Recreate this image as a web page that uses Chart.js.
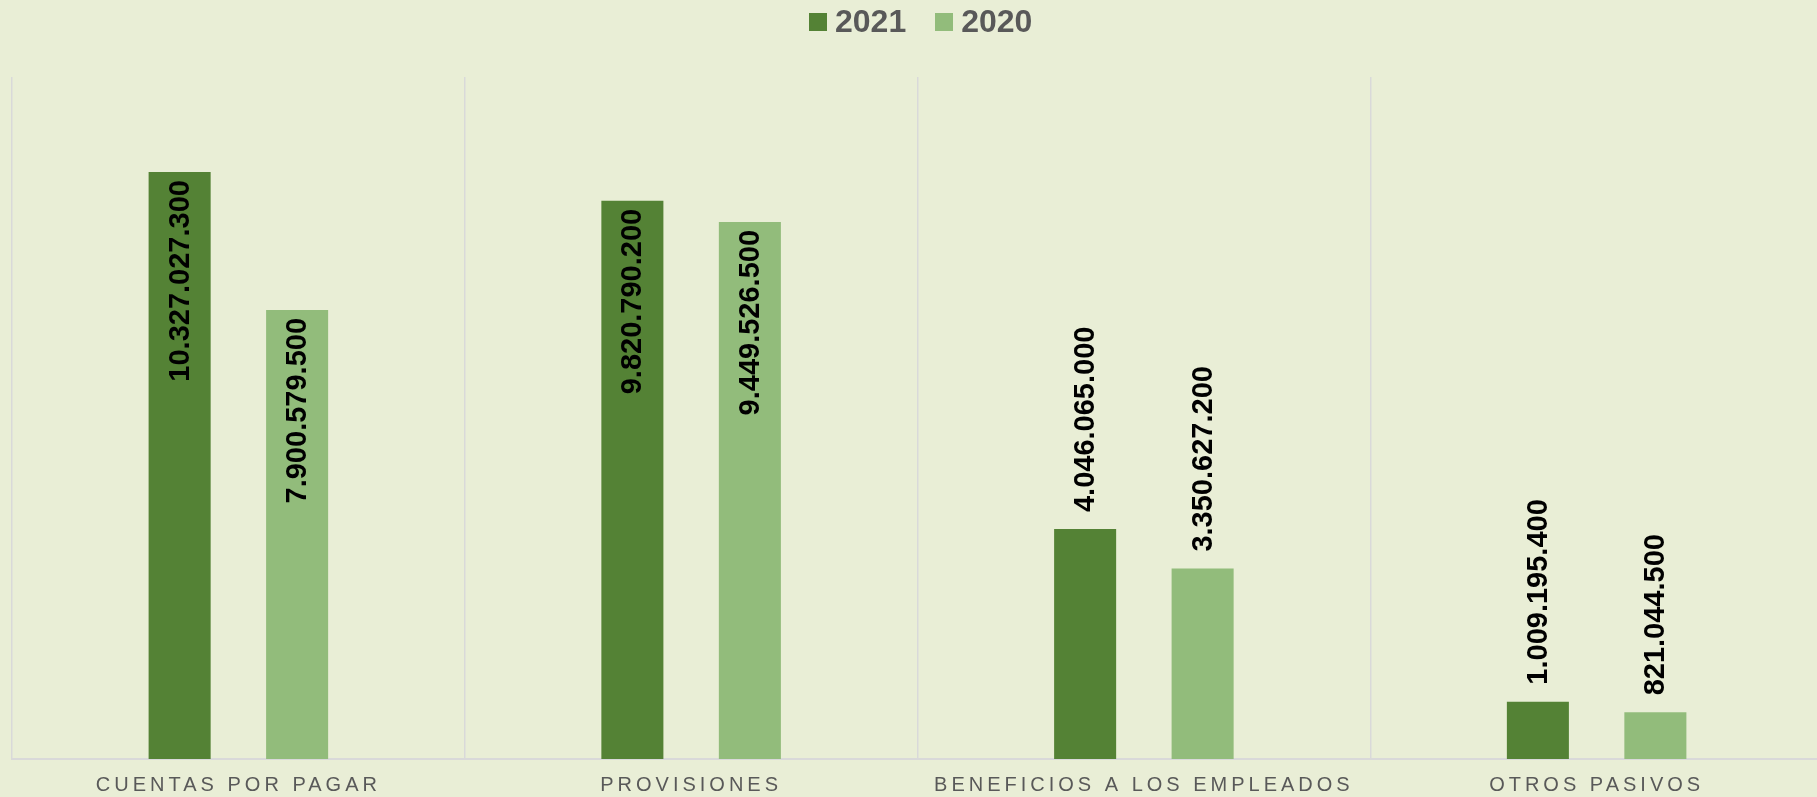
<!DOCTYPE html>
<html>
<head>
<meta charset="utf-8">
<script src="https://cdn.jsdelivr.net/npm/chart.js@4/dist/chart.umd.min.js"></script>
<style>
  html, body { margin:0; padding:0; background:#E9EED6; overflow:hidden; }
  #wrap { position:relative; width:1823px; height:797px; overflow:hidden; }
  #legend { position:absolute; left:809px; top:3px; display:flex; align-items:center;
            font:bold 32px "Liberation Sans", Arial, sans-serif; color:#595959; }
  #legend .item { display:flex; align-items:center; margin-right:29px; }
  #legend .box { width:18px; height:18px; margin-right:8px; }
</style>
</head>
<body>
<div id="wrap">
  <canvas id="chart" width="1823" height="812"></canvas>
  <div id="legend"></div>
</div>
<script>
const categories  = ["CUENTAS POR PAGAR", "PROVISIONES", "BENEFICIOS A LOS EMPLEADOS", "OTROS PASIVOS"];
const seriesNames = ["2021", "2020"];
const values2021  = [10327027300, 9820790200, 4046065000, 1009195400];
const values2020  = [7900579500, 9449526500, 3350627200, 821044500];
const colors      = ["#548235", "#92BC7B"];

const fmt = v => String(v).replace(/\B(?=(\d{3})+(?!\d))/g, ".");

// legend as html so the spacing matches
document.getElementById("legend").innerHTML = seriesNames.map((name, i) => `
  <div class="item"><div class="box" style="background:${colors[i]}"></div>${name}</div>`).join("");

// spaced-out category labels
const spacing = {
  id: "spacing",
  beforeDraw(chart) { chart.ctx.letterSpacing = "4px"; },
  beforeDatasetsDraw(chart) { chart.ctx.letterSpacing = "0px"; }
};

// rotated value labels, above the bar unless that runs too close to the top
const valueLabels = {
  id: "valueLabels",
  afterDatasetsDraw(chart) {
    const ctx = chart.ctx;
    const area = chart.chartArea;
    ctx.save();
    ctx.font = 'bold 29px "Liberation Sans", Arial, sans-serif';
    ctx.fillStyle = "#000";
    ctx.textAlign = "left";
    ctx.textBaseline = "middle";
    chart.data.datasets.forEach((ds, i) => {
      chart.getDatasetMeta(i).data.forEach((bar, j) => {
        const text = fmt(ds.data[j]);
        const w = ctx.measureText(text).width;
        let start = bar.y - 17;
        if (start - w < area.top + 100) start = bar.y + 8 + w;
        ctx.save();
        ctx.translate(bar.x, start);
        ctx.rotate(-Math.PI / 2);
        ctx.fillText(text, 0, 1);
        ctx.restore();
      });
    });
    ctx.restore();
  }
};

new Chart(document.getElementById("chart"), {
  type: "bar",
  data: {
    labels: categories,
    datasets: [
      { label: seriesNames[0], data: values2021, backgroundColor: colors[0] },
      { label: seriesNames[1], data: values2020, backgroundColor: colors[1] }
    ]
  },
  options: {
    responsive: false,
    animation: false,
    devicePixelRatio: 1,
    categoryPercentage: 0.519,
    barPercentage: 0.528,
    layout: { padding: { left: 12, right: 0, top: 77, bottom: 1 } },
    plugins: { legend: { display: false }, tooltip: { enabled: false } },
    scales: {
      x: {
        grid: { offset: true, color: "#D9D9D9", lineWidth: 1.5, drawTicks: false },
        border: { color: "#D9D9D9", width: 2 },
        ticks: {
          color: "#595959", padding: 14, maxRotation: 0, autoSkip: false,
          font: { family: '"Liberation Sans", Arial, sans-serif', size: 20 }
        }
      },
      y: { display: false, min: 0, max: 12000000000 }
    }
  },
  plugins: [spacing, valueLabels]
});
</script>
</body>
</html>
